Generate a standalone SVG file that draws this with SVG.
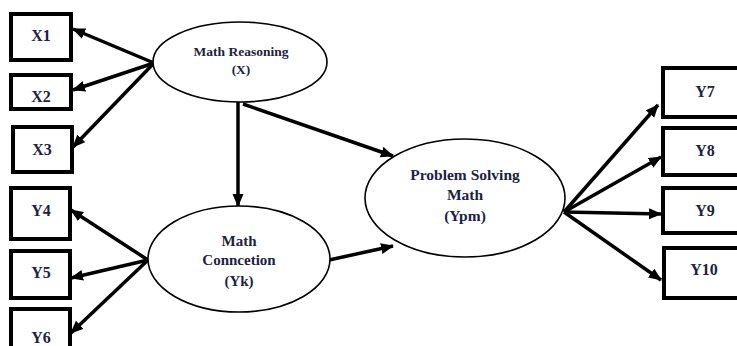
<svg xmlns="http://www.w3.org/2000/svg" width="737" height="346" viewBox="0 0 737 346">
<defs>
<marker id="ah" markerUnits="userSpaceOnUse" markerWidth="14" markerHeight="12" refX="12" refY="5.5" orient="auto">
<path d="M0,0 L13,5.5 L0,11 z" fill="#000"/>
</marker>
<style>
.box{fill:#fff;stroke:#000;stroke-width:4}
.ell{fill:#fff;stroke:#000;stroke-width:1.6}
.lbl{font-family:"Liberation Serif","Times New Roman",serif;font-weight:bold;fill:#1c2340;text-anchor:middle}
.b{font-size:16px}
.e{font-size:13.5px}
.c{font-size:15px}
.p{font-size:15.5px}
.arr{stroke:#000;stroke-width:3.5;fill:none;marker-end:url(#ah)}
</style>
</defs>
<rect width="737" height="346" fill="#fff"/>
<g id="connectors">
<line class="arr" x1="154" y1="63" x2="73" y2="29"/>
<line class="arr" x1="154" y1="63" x2="73" y2="90"/>
<line class="arr" x1="154" y1="63" x2="73" y2="147"/>
<line class="arr" x1="148" y1="260" x2="71" y2="210"/>
<line class="arr" x1="148" y1="260" x2="71" y2="278"/>
<line class="arr" x1="148" y1="260" x2="71" y2="333"/>
<line class="arr" x1="238" y1="102" x2="238" y2="206"/>
<line class="arr" x1="243" y1="104" x2="393" y2="156"/>
<line class="arr" x1="329" y1="260" x2="393" y2="246"/>
<line class="arr" x1="564" y1="212" x2="658" y2="105"/>
<line class="arr" x1="564" y1="212" x2="661" y2="157"/>
<line class="arr" x1="564" y1="212" x2="661" y2="214"/>
<line class="arr" x1="564" y1="212" x2="661" y2="280"/>
</g>
<g id="X1"><rect class="box" x="11" y="14" width="60" height="46"/><text class="lbl b" x="41" y="41">X1</text></g>
<g id="X2"><rect class="box" x="11" y="75" width="60" height="34"/><text class="lbl b" x="41" y="102">X2</text></g>
<g id="X3"><rect class="box" x="13" y="127" width="59" height="45"/><text class="lbl b" x="42" y="155">X3</text></g>
<g id="Y4"><rect class="box" x="11" y="188" width="59" height="51"/><text class="lbl b" x="41" y="216">Y4</text></g>
<g id="Y5"><rect class="box" x="11" y="251" width="59" height="47"/><text class="lbl b" x="41" y="278">Y5</text></g>
<g id="Y6"><rect class="box" x="11" y="309" width="59" height="50"/><text class="lbl b" x="41" y="343">Y6</text></g>
<g id="Y7"><rect class="box" x="663" y="68" width="84" height="49"/><text class="lbl b" x="705" y="97">Y7</text></g>
<g id="Y8"><rect class="box" x="663" y="128" width="84" height="47"/><text class="lbl b" x="705" y="156">Y8</text></g>
<g id="Y9"><rect class="box" x="663" y="188" width="84" height="45"/><text class="lbl b" x="705" y="216">Y9</text></g>
<g id="Y10"><rect class="box" x="664" y="248" width="84" height="50"/><text class="lbl b" x="704" y="275">Y10</text></g>
<g id="MR"><ellipse class="ell" cx="240" cy="62" rx="87" ry="40"/><text class="lbl e" x="241" y="56">Math Reasoning</text><text class="lbl e" x="241" y="74">(X)</text></g>
<g id="MC"><ellipse class="ell" cx="239" cy="259" rx="91" ry="53"/><text class="lbl c" x="239" y="246">Math</text><text class="lbl c" x="239" y="265">Conncetion</text><text class="lbl c" x="239" y="286">(Yk)</text></g>
<g id="PSM"><ellipse class="ell" cx="465" cy="198" rx="100" ry="59"/><text class="lbl p" x="465" y="180">Problem Solving</text><text class="lbl p" x="465" y="200">Math</text><text class="lbl p" x="465" y="221">(Ypm)</text></g>
</svg>
